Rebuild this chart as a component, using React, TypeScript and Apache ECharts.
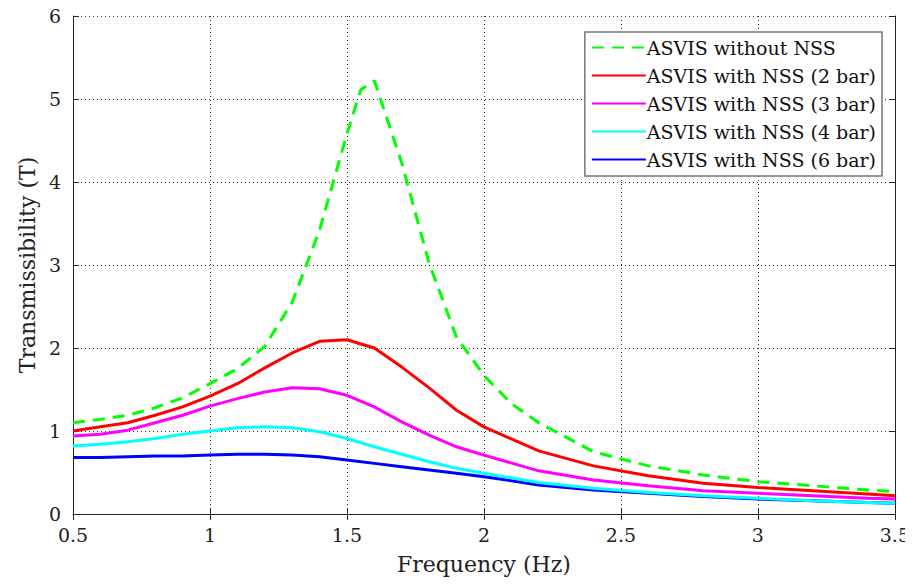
import React, { useEffect, useRef } from "react";
import * as echarts from "echarts";

const seriesNames = [
  "ASVIS without NSS",
  "ASVIS with NSS (2 bar)",
  "ASVIS with NSS (3 bar)",
  "ASVIS with NSS (4 bar)",
  "ASVIS with NSS (6 bar)",
];
const colors = ["#00ff00", "#ff0000", "#ff00ff", "#00ffff", "#0000ff"];

const freqGreen = [0.5, 0.6, 0.7, 0.8, 0.9, 1.0, 1.1, 1.2, 1.3, 1.4, 1.5, 1.55, 1.6, 1.7, 1.8, 1.9, 2.0, 2.1, 2.2, 2.4, 2.6, 2.8, 3.0, 3.2, 3.4, 3.5];
const tGreen = [1.1, 1.14, 1.19, 1.28, 1.4, 1.57, 1.75, 2.02, 2.55, 3.42, 4.58, 5.11, 5.22, 4.23, 3.02, 2.13, 1.67, 1.33, 1.1, 0.75, 0.58, 0.47, 0.39, 0.34, 0.29, 0.27];

const freq = [0.5, 0.6, 0.7, 0.8, 0.9, 1.0, 1.1, 1.2, 1.3, 1.4, 1.5, 1.6, 1.7, 1.8, 1.9, 2.0, 2.2, 2.4, 2.6, 2.8, 3.0, 3.2, 3.4, 3.5];
const t2bar = [1.0, 1.05, 1.1, 1.19, 1.29, 1.42, 1.57, 1.76, 1.94, 2.08, 2.1, 2.0, 1.77, 1.52, 1.25, 1.05, 0.76, 0.58, 0.46, 0.37, 0.32, 0.28, 0.24, 0.22];
const t3bar = [0.94, 0.96, 1.01, 1.1, 1.19, 1.3, 1.39, 1.47, 1.52, 1.51, 1.43, 1.29, 1.11, 0.95, 0.81, 0.71, 0.52, 0.41, 0.34, 0.28, 0.25, 0.22, 0.19, 0.18];
const t4bar = [0.82, 0.84, 0.87, 0.91, 0.96, 1.0, 1.04, 1.05, 1.04, 0.99, 0.91, 0.81, 0.72, 0.63, 0.55, 0.49, 0.38, 0.31, 0.26, 0.22, 0.19, 0.16, 0.14, 0.13];
const t6bar = [0.68, 0.68, 0.69, 0.7, 0.7, 0.71, 0.72, 0.72, 0.71, 0.69, 0.65, 0.61, 0.57, 0.53, 0.49, 0.45, 0.35, 0.29, 0.25, 0.21, 0.18, 0.16, 0.14, 0.13];

const xTicks = [0.5, 1, 1.5, 2, 2.5, 3, 3.5];
const yTicks = [0, 1, 2, 3, 4, 5, 6];

const FONT = "DejaVu Serif";

function pairs(xs: number[], ys: number[]) {
  return xs.map((x, i) => [x, ys[i]]);
}

export default function App() {
  const ref = useRef<HTMLDivElement>(null);
  useEffect(() => {
    if (!ref.current) return;
    const chart = echarts.init(ref.current, undefined, { renderer: "svg" });
    const allData = [
      pairs(freqGreen, tGreen),
      pairs(freq, t2bar),
      pairs(freq, t3bar),
      pairs(freq, t4bar),
      pairs(freq, t6bar),
    ];
    const gridLine = { show: true, lineStyle: { color: "#333", type: [1, 3] as any, width: 1 } };
    chart.setOption({
      animation: false,
      backgroundColor: "#fff",
      textStyle: { fontFamily: FONT },
      grid: { left: 73, right: 16, top: 16, bottom: 71, containLabel: false },
      legend: {
        orient: "vertical",
        right: 31,
        top: 32,
        itemWidth: 54,
        itemHeight: 10,
        itemGap: 9,
        padding: [6, 6, 7, 6],
        backgroundColor: "#fff",
        borderColor: "#777",
        borderWidth: 1.5,
        borderRadius: 0,
        itemStyle: { opacity: 0 },
        textStyle: { fontFamily: FONT, fontSize: 19, color: "#111", padding: [0, 0, 0, -4] },
        data: seriesNames,
      },
      xAxis: [
        {
          type: "value",
          min: 0.5,
          max: 3.5,
          interval: 0.5,
          name: "Frequency (Hz)",
          nameLocation: "middle",
          nameGap: 39,
          nameTextStyle: { fontFamily: FONT, fontSize: 22, color: "#222" },
          axisLine: { show: true, lineStyle: { color: "#222", width: 1 } },
          axisTick: { show: true, inside: true, length: 6, lineStyle: { color: "#222" } },
          axisLabel: {
            fontFamily: FONT,
            fontSize: 19,
            color: "#222",
            margin: 11,
            formatter: (v: number) => (xTicks.includes(v) ? String(v) : ""),
          },
          splitLine: gridLine,
        },
        {
          type: "value",
          position: "top",
          min: 0.5,
          max: 3.5,
          interval: 0.5,
          axisLine: { show: true, lineStyle: { color: "#222", width: 1 } },
          axisTick: { show: true, inside: true, length: 6, lineStyle: { color: "#222" } },
          axisLabel: { show: false },
          splitLine: { show: false },
        },
      ],
      yAxis: [
        {
          type: "value",
          min: 0,
          max: 6,
          interval: 1,
          name: "Transmissibility (T)",
          nameLocation: "middle",
          nameGap: 34,
          nameTextStyle: { fontFamily: FONT, fontSize: 22, color: "#222" },
          axisLine: { show: true, lineStyle: { color: "#222", width: 1 } },
          axisTick: { show: true, inside: true, length: 6, lineStyle: { color: "#222" } },
          axisLabel: {
            fontFamily: FONT,
            fontSize: 19,
            color: "#222",
            margin: 12,
            formatter: (v: number) => (yTicks.includes(v) ? String(v) : ""),
          },
          splitLine: gridLine,
        },
        {
          type: "value",
          position: "right",
          min: 0,
          max: 6,
          interval: 1,
          axisLine: { show: true, lineStyle: { color: "#222", width: 1 } },
          axisTick: { show: true, inside: true, length: 6, lineStyle: { color: "#222" } },
          axisLabel: { show: false },
          splitLine: { show: false },
        },
      ],
      series: seriesNames.map((name, i) => ({
        name,
        type: "line",
        data: allData[i],
        showSymbol: false,
        symbol: "none",
        color: colors[i],
        z: 10 - i,
        lineStyle: {
          color: colors[i],
          width: 3,
          type: i === 0 ? [12, 8] : "solid",
        },
      })),
    });
    return () => chart.dispose();
  }, []);
  return <div ref={ref} style={{ width: 913, height: 585, margin: -8 }} />;
}
